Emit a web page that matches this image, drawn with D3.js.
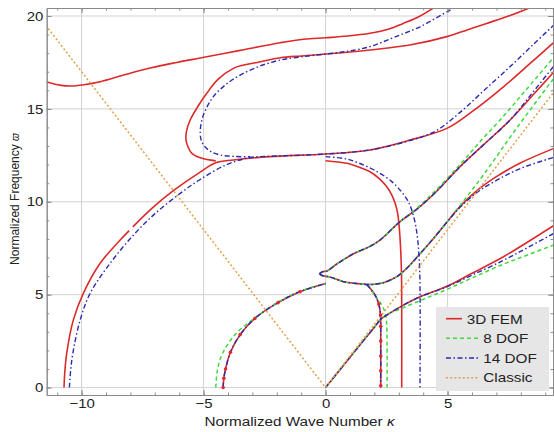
<!DOCTYPE html>
<html>
<head>
<meta charset="utf-8">
<script src="https://cdn.jsdelivr.net/npm/d3@7"></script>
<style>
	body { margin: 0; background: #fff; }
	svg { display: block; }
	text { font-family: "Liberation Sans", Arial, sans-serif; fill: #222; }
</style>
</head>
<body>
<svg width="554" height="432"></svg>
<script>
// axis ticks and legend
const xTicks = [-10, -5, 0, 5]
const yTicks = [0, 5, 10, 15, 20]
const legendLabels = ['3D FEM', '8 DOF', '14 DOF', 'Classic']

// 3D FEM branches [kappa, omega]
const femTop = [[-11.6, 16.5], [-11.43, 16.45], [-10.9, 16.28], [-10.45, 16.23], [-9.9, 16.3], [-9.24, 16.46], [-8.2, 16.85], [-7.19, 17.2], [-6.1, 17.5], [-5.14, 17.74], [-3.5, 18.15], [-1.86, 18.56], [-0.9, 18.75], [0, 18.83], [0.9, 18.92], [1.82, 19.07], [2.6, 19.3], [3.18, 19.6], [3.8, 19.95], [4.4, 20.41], [4.6, 20.6]]
const femLoop = [[8.5, 20.55], [8.3, 20.4], [7.5, 20.0], [6.6, 19.6], [5.8, 19.25], [4.97, 18.89], [3.5, 18.45], [1.82, 18.17], [0.9, 18.05], [0, 17.95], [-1.0, 17.85], [-1.86, 17.75], [-2.8, 17.5], [-3.4, 17.35], [-3.78, 17.18], [-4.4, 16.6], [-4.87, 15.84], [-5.25, 15.1], [-5.55, 14.4], [-5.7, 13.8], [-5.72, 13.32], [-5.62, 12.9], [-5.48, 12.61], [-5.1, 12.35], [-4.5, 12.2]]
const femArcB1 = [[-10.72, 0], [-10.69, 0.8], [-10.61, 1.84], [-10.34, 3.63], [-9.93, 5.07], [-9.24, 6.69], [-8.42, 7.94], [-8.05, 8.45]]
const femArcB2 = [[-7.9, 8.65], [-7.12, 9.65], [-6.24, 10.6], [-5.14, 11.6], [-4.5, 12.1], [-3.78, 12.25], [-2.27, 12.43], [0, 12.57], [1.82, 12.79], [3.46, 13.32], [4.97, 13.95], [6.0, 14.85], [7.29, 16.19], [8.3, 17.35], [9.5, 18.75]]
const femArcA = [[-4.2, 0], [-4.17, 0.5], [-4.1, 1.0], [-3.9, 1.9], [-3.5, 2.85], [-2.9, 3.72], [-1.95, 4.57], [-1.05, 5.16], [0, 5.6]]
const femD = [[0, 12.21], [0.87, 12.07], [1.4, 11.85], [1.82, 11.62], [2.2, 11.25], [2.51, 10.81], [2.72, 10.35], [2.85, 9.92], [2.95, 9.4], [3.02, 8.6], [3.07, 7.6], [3.11, 6.2], [3.12, 4.5], [3.12, 0]]
const femBirdUp = [[-0.25, 6.12], [-0.12, 6.24], [0.05, 6.27], [0.46, 6.65], [1.14, 7.2], [1.82, 7.6], [2.23, 7.94], [3.05, 8.93], [3.74, 9.6], [4.5, 10.5], [5.51, 11.89], [6.5, 13.1], [7.56, 14.4], [8.5, 15.75], [9.5, 17.2]]
const femBirdLow = [[-0.25, 6.12], [-0.12, 6.02], [0.18, 5.95], [0.73, 5.7], [1.28, 5.6], [1.69, 5.55], [2.0, 5.56], [2.37, 5.64], [2.92, 5.97], [3.33, 6.42], [3.87, 7.2], [4.5, 8.15], [5.0, 8.95], [5.51, 9.75], [6.2, 10.6], [7.0, 11.35], [8.0, 12.1], [9.5, 12.95]]
const femF = [[1.69, 5.55], [1.85, 5.3], [2.03, 4.98], [2.18, 4.5], [2.25, 3.9], [2.26, 3.3], [2.26, 2.5], [2.26, 1.7], [2.26, 0.9], [2.26, 0.1]]
const femG = [[0, 0], [1, 1.63], [2, 3.25], [2.28, 3.7], [2.6, 3.98], [3.19, 4.44], [3.87, 4.89], [4.97, 5.45], [6, 6.15], [7.29, 7.04], [8.3, 7.85], [9.5, 8.85]]

// 8 DOF branches
const dof8ArcA = [[-4.5, 0], [-4.45, 0.8], [-4.3, 1.6], [-4.0, 2.35], [-3.6, 3.0], [-2.9, 3.75], [-1.95, 4.6], [-1.05, 5.18], [0, 5.6]]
const dof8BirdUp = [[-0.25, 6.12], [-0.12, 6.24], [0.05, 6.27], [0.46, 6.65], [1.14, 7.2], [1.82, 7.6], [2.23, 7.94], [3.05, 8.93], [3.74, 9.65], [4.5, 10.6], [5.51, 12.0], [6.3, 13.2], [7.15, 14.4], [8.2, 16.0], [9.5, 18.0]]
const dof8BirdLow = [[-0.25, 6.12], [-0.12, 6.02], [0.18, 5.95], [0.73, 5.7], [1.28, 5.6], [1.69, 5.55], [2.0, 5.56], [2.37, 5.64], [2.92, 5.97], [3.33, 6.42], [3.87, 7.2], [4.5, 8.15], [5.0, 8.95], [5.51, 9.8], [6.5, 11.5], [7.85, 14.0], [9.5, 16.9]]
const dof8F = [[1.69, 5.55], [2.0, 5.0], [2.3, 4.45], [2.45, 4.0], [2.5, 3.5], [2.52, 2.5], [2.52, 0]]
const dof8G = [[0, 0], [1, 1.65], [2, 3.25], [2.4, 3.85], [3, 4.2], [4, 4.75], [5, 5.3], [6, 5.9], [7.3, 6.65], [8.3, 7.15], [9.5, 7.75]]

// 14 DOF branches
const dof14ArcA = [[-4.2, 0], [-4.17, 0.5], [-4.1, 1.0], [-3.9, 1.9], [-3.5, 2.85], [-2.9, 3.72], [-1.95, 4.57], [-1.05, 5.16], [0, 5.6]]
const dof14ArcB = [[-10.5, 0], [-10.45, 0.9], [-10.36, 1.84], [-10.06, 3.63], [-9.65, 5.07], [-8.83, 6.69], [-7.88, 8.2], [-7.0, 9.35], [-5.96, 10.45], [-5.14, 11.2], [-4.05, 12.0], [-3.09, 12.38], [-2.27, 12.45], [0, 12.57], [1.82, 12.79], [3.46, 13.3], [4.5, 13.8], [5.5, 14.8], [6.5, 16.0], [7.5, 17.2], [8.5, 18.45], [9.5, 19.7]]
const dof14Loop = [[5.55, 20.6], [5.1, 20.32], [3.87, 19.42], [2.8, 18.85], [1.82, 18.35], [0.9, 18.1], [0, 17.95], [-1.0, 17.8], [-1.86, 17.63], [-2.7, 17.3], [-3.5, 16.82], [-4.1, 16.3], [-4.6, 15.66], [-4.9, 15.0], [-5.07, 14.4], [-5.14, 13.68], [-5.08, 13.25], [-4.94, 12.96], [-4.7, 12.7], [-4.32, 12.52], [-3.7, 12.44], [-3.09, 12.42]]
const dof14D = [[0, 12.43], [0.87, 12.3], [1.6, 11.95], [2.23, 11.53], [2.7, 11.1], [3.05, 10.63], [3.35, 10.1], [3.53, 9.56], [3.68, 8.8], [3.78, 7.9], [3.84, 6.8], [3.87, 5.5], [3.87, 0]]
const dof14BirdUp = [[-0.25, 6.12], [-0.12, 6.24], [0.05, 6.27], [0.46, 6.65], [1.14, 7.2], [1.82, 7.6], [2.23, 7.94], [3.05, 8.93], [3.74, 9.6], [4.5, 10.5], [5.51, 11.89], [6.5, 13.1], [7.56, 14.4], [8.5, 15.9], [9.5, 17.55]]
const dof14BirdLow = [[-0.25, 6.12], [-0.12, 6.02], [0.18, 5.95], [0.73, 5.7], [1.28, 5.6], [1.69, 5.55], [2.0, 5.56], [2.37, 5.64], [2.92, 5.97], [3.33, 6.42], [3.87, 7.2], [4.5, 8.15], [5.0, 8.95], [5.51, 9.7], [6.2, 10.5], [7.0, 11.15], [8.0, 11.8], [9.5, 12.45]]
const dof14F = [[1.69, 5.55], [1.85, 5.3], [2.03, 4.98], [2.18, 4.5], [2.25, 3.9], [2.26, 3.0], [2.26, 0]]
const dof14G = [[0, 0], [1, 1.63], [2, 3.25], [2.28, 3.7], [2.6, 3.98], [3.19, 4.44], [3.87, 4.89], [4.97, 5.42], [6, 6.05], [7.29, 6.85], [8.3, 7.55], [9.5, 8.4]]

// Classic
const classicLeft = [[-12, 20.4], [0, 0]]
const classicRight = [[0, 0], [9.6, 16.32]]

const series = [
	{ name: legendLabels[0], color: '#dc2a2a', width: 1.6, dash: null, branches: [femTop, femLoop, femArcB1, femArcB2, femArcA, femD, femBirdUp, femBirdLow, femF, femG] },
	{ name: legendLabels[1], color: '#3fd83f', width: 1.5, dash: '4,3', branches: [dof8ArcA, dof8BirdUp, dof8BirdLow, dof8F, dof8G] },
	{ name: legendLabels[2], color: '#2b2bb0', width: 1.4, dash: '5,2.5,1.5,2.5', branches: [dof14ArcA, dof14ArcB, dof14Loop, dof14D, dof14BirdUp, dof14BirdLow, dof14F, dof14G] },
	{ name: legendLabels[3], color: '#e3a04c', width: 1.5, dash: '2,2.2', branches: [classicLeft, classicRight] }
]

const svg = d3.select('svg')
const plot = { left: 46.7, right: 553, top: 8, bottom: 395 }

const x = d3.scaleLinear().domain([-11.43, 9.32]).range([plot.left, plot.right])
const y = d3.scaleLinear().domain([-0.4, 20.43]).range([plot.bottom, plot.top])

// stretch text horizontally like the reference
const stretch = (sel, k) => sel.each(function () {
	const w = this.getComputedTextLength()
	d3.select(this).attr('textLength', w * k).attr('lengthAdjust', 'spacingAndGlyphs')
})

svg.append('defs').append('clipPath').attr('id', 'clip')
	.append('rect')
	.attr('x', plot.left).attr('y', plot.top)
	.attr('width', plot.right - plot.left).attr('height', plot.bottom - plot.top)

// Grid
const grid = svg.append('g').attr('stroke', '#d2d2d2').attr('stroke-width', 1)
grid.selectAll('.gx').data(xTicks).enter().append('line')
	.attr('x1', d => x(d)).attr('x2', d => x(d))
	.attr('y1', plot.top).attr('y2', plot.bottom)
grid.selectAll('.gy').data(yTicks).enter().append('line')
	.attr('x1', plot.left).attr('x2', plot.right)
	.attr('y1', d => y(d)).attr('y2', d => y(d))

// Curves
const line = d3.line()
	.x(d => x(d[0]))
	.y(d => y(d[1]))
	.curve(d3.curveCatmullRom.alpha(0.5))

const curves = svg.append('g').attr('clip-path', 'url(#clip)')
series.forEach(s => {
	curves.append('g')
		.selectAll('path')
		.data(s.branches)
		.enter()
		.append('path')
		.attr('d', line)
		.attr('fill', 'none')
		.attr('stroke', s.color)
		.attr('stroke-width', s.width)
		.attr('stroke-dasharray', s.dash)
		.attr('stroke-linejoin', 'round')
})

// FEM sample dots on the two low branches
const dots = femArcA.slice(0, -1).concat(femF.slice(3))
curves.append('g')
	.selectAll('circle')
	.data(dots)
	.enter()
	.append('circle')
	.attr('cx', d => x(d[0]))
	.attr('cy', d => y(d[1]))
	.attr('r', 1.8)
	.attr('fill', '#dc2a2a')

// Frame with ticks
const frameColor = '#8a8a8a'
const fmt = d => d < 0 ? '\u2212' + Math.abs(d) : String(d)
const xMinor = d3.range(-11, 10)
const yMinor = d3.range(0, 21)

const addAxis = (axis, tx, ty, labels) => {
	const g = svg.append('g').attr('transform', `translate(${tx},${ty})`).call(axis)
	g.select('.domain').attr('stroke', frameColor)
	g.selectAll('.tick line').attr('stroke', frameColor)
	g.selectAll('text').attr('font-family', null).attr('font-size', 13).attr('fill', '#222')
	if (!labels) g.selectAll('text').remove()
	return g
}

const bottom = addAxis(d3.axisBottom(x).tickValues(xTicks).tickSize(-5).tickSizeOuter(0).tickPadding(4).tickFormat(fmt), 0, plot.bottom, true)
stretch(bottom.selectAll('text'), 1.15)
const left = addAxis(d3.axisLeft(y).tickValues(yTicks).tickSize(-5).tickSizeOuter(0).tickPadding(3.4).tickFormat(fmt), plot.left, 0, true)
stretch(left.selectAll('text'), 1.15)
addAxis(d3.axisTop(x).tickValues(xTicks).tickSize(-5).tickSizeOuter(0), 0, plot.top, false)
addAxis(d3.axisRight(y).tickValues(yTicks).tickSize(-5).tickSizeOuter(0), plot.right, 0, false)

// minor ticks
addAxis(d3.axisBottom(x).tickValues(xMinor).tickSize(-2.5).tickSizeOuter(0), 0, plot.bottom, false)
addAxis(d3.axisTop(x).tickValues(xMinor).tickSize(-2.5).tickSizeOuter(0), 0, plot.top, false)
addAxis(d3.axisLeft(y).tickValues(yMinor).tickSize(-2.5).tickSizeOuter(0), plot.left, 0, false)
addAxis(d3.axisRight(y).tickValues(yMinor).tickSize(-2.5).tickSizeOuter(0), plot.right, 0, false)

// Axis titles
const xTitle = svg.append('text')
	.attr('x', 299.5).attr('y', 425.5)
	.attr('text-anchor', 'middle')
	.attr('font-size', 12.5)
xTitle.append('tspan').text('Normalized Wave Number ')
xTitle.append('tspan').attr('font-style', 'italic').text('\u03ba')
stretch(xTitle, 1.22)

const yTitle = svg.append('text')
	.attr('transform', 'translate(18.5,199) rotate(-90)')
	.attr('text-anchor', 'middle')
	.attr('font-size', 12)
yTitle.append('tspan').text('Normalized Frequency ')
yTitle.append('tspan').attr('font-style', 'italic').attr('font-size', 10).text('\u03d6')

// Legend
const legend = svg.append('g')
legend.append('rect')
	.attr('x', 436).attr('y', 307)
	.attr('width', 113).attr('height', 84)
	.attr('fill', '#e6e6e6')

const rows = legend.selectAll('.row')
	.data(series)
	.enter()
	.append('g')
	.attr('transform', (d, i) => `translate(0,${318.7 + i * 19.65})`)

rows.append('line')
	.attr('x1', 446)
	.attr('x2', (d, i) => i === 0 ? 462 : 479)
	.attr('y1', 0).attr('y2', 0)
	.attr('stroke', d => d.color)
	.attr('stroke-width', d => d.width)
	.attr('stroke-dasharray', d => d.dash)

const labels = rows.append('text')
	.attr('x', (d, i) => i === 0 ? 466.7 : 483.3)
	.attr('y', 4.8)
	.attr('font-size', 13.5)
	.text(d => d.name)
stretch(labels, 1.13)
</script>
</body>
</html>
